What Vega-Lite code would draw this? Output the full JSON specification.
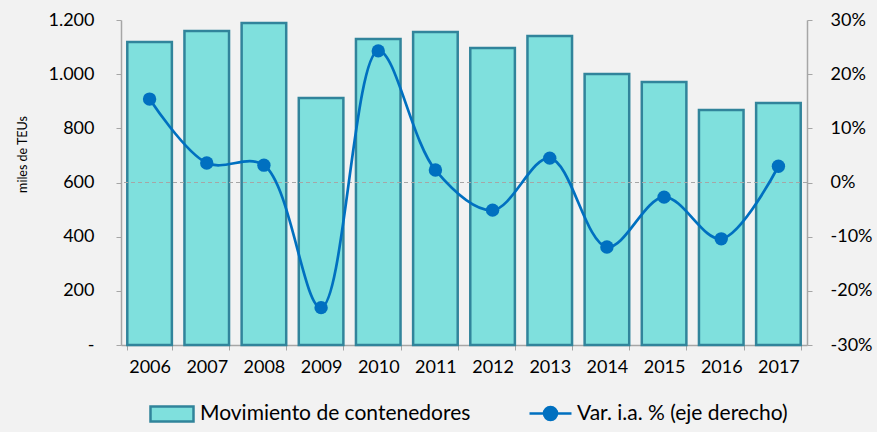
{
  "$schema": "https://vega.github.io/schema/vega-lite/v6.json",
  "autosize": {"type": "none"},
  "width": 686,
  "height": 325,
  "padding": {"left": 121, "top": 20, "right": 70, "bottom": 87},
  "background": "#F2F2F2",
  "config": {
    "view": {"stroke": null},
    "font": "Lato",
    "axis": {"labelFont": "Lato", "titleFont": "Lato", "labelColor": "#000000", "titleColor": "#000000", "domainColor": "#A6A6A6", "tickColor": "#A6A6A6", "grid": false}
  },
  "data": {"values": [
    {"anio": "2006", "teu": 1119, "var": 0.154, "s1": "Movimiento de contenedores", "s2": "Var. i.a. % (eje derecho)"},
    {"anio": "2007", "teu": 1159, "var": 0.036, "s1": "Movimiento de contenedores", "s2": "Var. i.a. % (eje derecho)"},
    {"anio": "2008", "teu": 1189, "var": 0.032, "s1": "Movimiento de contenedores", "s2": "Var. i.a. % (eje derecho)"},
    {"anio": "2009", "teu": 912, "var": -0.231, "s1": "Movimiento de contenedores", "s2": "Var. i.a. % (eje derecho)"},
    {"anio": "2010", "teu": 1130, "var": 0.243, "s1": "Movimiento de contenedores", "s2": "Var. i.a. % (eje derecho)"},
    {"anio": "2011", "teu": 1156, "var": 0.023, "s1": "Movimiento de contenedores", "s2": "Var. i.a. % (eje derecho)"},
    {"anio": "2012", "teu": 1097, "var": -0.051, "s1": "Movimiento de contenedores", "s2": "Var. i.a. % (eje derecho)"},
    {"anio": "2013", "teu": 1141, "var": 0.045, "s1": "Movimiento de contenedores", "s2": "Var. i.a. % (eje derecho)"},
    {"anio": "2014", "teu": 1001, "var": -0.119, "s1": "Movimiento de contenedores", "s2": "Var. i.a. % (eje derecho)"},
    {"anio": "2015", "teu": 971, "var": -0.027, "s1": "Movimiento de contenedores", "s2": "Var. i.a. % (eje derecho)"},
    {"anio": "2016", "teu": 868, "var": -0.104, "s1": "Movimiento de contenedores", "s2": "Var. i.a. % (eje derecho)"},
    {"anio": "2017", "teu": 894, "var": 0.030, "s1": "Movimiento de contenedores", "s2": "Var. i.a. % (eje derecho)"}
  ]},
  "encoding": {
    "x": {"field": "anio", "type": "nominal", "title": null,
      "scale": {"paddingInner": 0.22, "paddingOuter": 0.11},
      "axis": {"labelAngle": 0, "labelFontSize": 18, "tickBand": "extent", "tickSize": 5, "labelPadding": 8, "domainWidth": 1.5}}
  },
  "layer": [
    {
      "mark": {"type": "bar", "stroke": "#31849B", "strokeWidth": 2.5},
      "encoding": {
        "y": {"field": "teu", "type": "quantitative", "title": "miles de TEUs",
          "scale": {"domain": [0, 1200]},
          "axis": {"values": [0, 200, 400, 600, 800, 1000, 1200], "labelExpr": "datum.value == 0 ? '-' : replace(format(datum.value, ','), ',', '.')", "labelFontSize": 18, "titleFontSize": 12.5, "titleFontWeight": "normal", "titleX": -92, "titleY": 134, "titleAngle": 270, "tickSize": 5, "labelPadding": 22, "domainWidth": 1.5}},
        "fill": {"field": "s1", "type": "nominal", "scale": {"range": ["#7FE0DD"]},
          "legend": {"title": null, "orient": "none", "legendX": 28, "legendY": 371, "symbolType": "M-1,-0.35H1V0.35H-1Z", "symbolSize": 1849, "symbolStrokeColor": "#31849B", "symbolStrokeWidth": 2.5, "labelFontSize": 21, "labelFont": "Lato", "labelColor": "#000000", "labelLimit": 400, "labelOffset": 5}}
      }
    },
    {
      "mark": {"type": "rule", "strokeDash": [4, 3], "color": "#A6A6A6", "strokeWidth": 1},
      "data": {"values": [{"z": 0}]},
      "encoding": {"y": {"field": "z", "type": "quantitative", "scale": {"domain": [-0.3, 0.3]}, "axis": null}, "x": null}
    },
    {
      "mark": {"type": "line", "color": "#0070C0", "strokeWidth": 2.7, "interpolate": "catmull-rom"},
      "encoding": {
        "y": {"field": "var", "type": "quantitative", "scale": {"domain": [-0.3, 0.3]}, "axis": null},
        "stroke": {"field": "s2", "type": "nominal", "scale": {"range": ["#0070C0"]},
          "legend": {"title": null, "orient": "none", "legendX": 407, "legendY": 371, "symbolType": "M-1,0H1M0.31,0A0.31,0.31 0 1,1 -0.31,0A0.31,0.31 0 1,1 0.31,0Z", "symbolSize": 1764, "symbolFillColor": "#0070C0", "symbolStrokeColor": "#0070C0", "symbolStrokeWidth": 2.5, "labelFontSize": 21, "labelFont": "Lato", "labelColor": "#000000", "labelLimit": 400, "labelOffset": 4}}
      }
    },
    {
      "mark": {"type": "point", "filled": true, "color": "#0070C0", "size": 180, "opacity": 1},
      "encoding": {
        "y": {"field": "var", "type": "quantitative", "title": null,
          "scale": {"domain": [-0.3, 0.3]},
          "axis": {"orient": "right", "values": [-0.3, -0.2, -0.1, 0, 0.1, 0.2, 0.3], "labelExpr": "replace(format(datum.value, '.0%'), '−', '-')", "labelFontSize": 18, "tickSize": 5, "labelPadding": 18, "domainWidth": 1.5}}
      }
    }
  ],
  "resolve": {"scale": {"y": "independent", "fill": "independent", "stroke": "independent"}}
}
